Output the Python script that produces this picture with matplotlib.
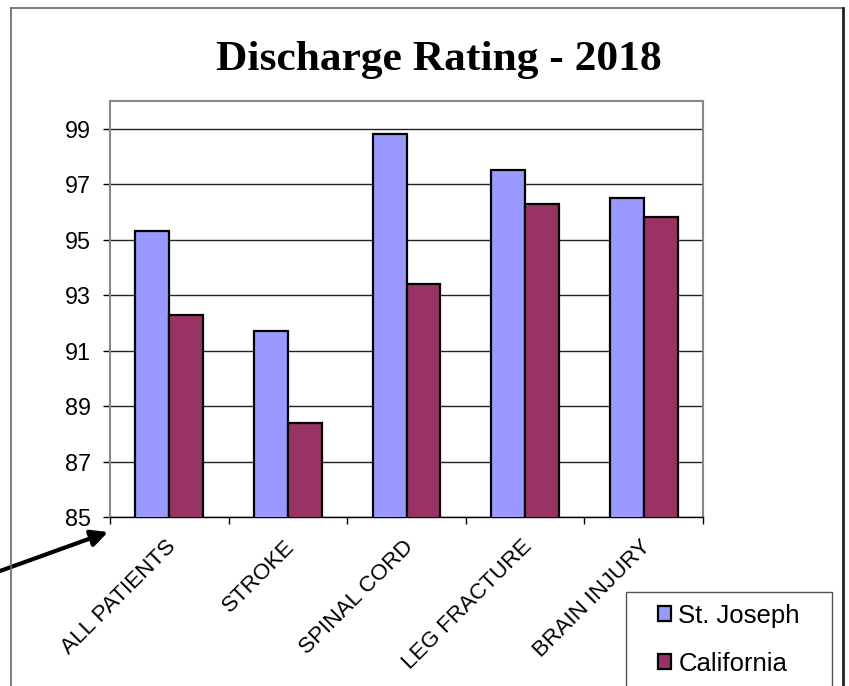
import matplotlib.pyplot as plt
import numpy as np
from matplotlib.lines import Line2D
from matplotlib.patches import Rectangle

categories = ["ALL PATIENTS", "STROKE", "SPINAL CORD", "LEG FRACTURE", "BRAIN INJURY"]
st_joseph = [95.3, 91.7, 98.8, 97.5, 96.5]
california = [92.3, 88.4, 93.4, 96.3, 95.8]
y_ticks = [85, 87, 89, 91, 93, 95, 97, 99]

W, H = 849, 686
plt.rcParams["font.family"] = ["Liberation Sans", "DejaVu Sans"]

fig = plt.figure(figsize=(W / 100, H / 100), dpi=100)
ax = fig.add_axes([110 / W, 1 - 517 / H, 593 / W, 416 / H])

x = np.arange(len(categories))
w = 1 / 3.5
ax.bar(x - w / 2, st_joseph, w, color="#9999FF", edgecolor="black",
       linewidth=1.6, label="St. Joseph", zorder=3)
ax.bar(x + w / 2, california, w, color="#993366", edgecolor="black",
       linewidth=1.6, label="California", zorder=3)

ax.set_xlim(-0.5, len(categories) - 0.5)
ax.set_ylim(85, 100)
ax.set_yticks(y_ticks)
ax.tick_params(axis="y", labelsize=16.8, length=5, width=1, direction="out", pad=9)
ax.yaxis.grid(True, color="#222222", linewidth=1)
ax.set_axisbelow(True)

ax.set_xticks(np.arange(len(categories) + 1) - 0.5)
ax.set_xticklabels([])
ax.tick_params(axis="x", length=5, width=1, direction="out")
for i, lab in enumerate(categories):
    ax.text(i - 0.03, 84.3, lab, rotation=45, ha="right", va="top",
            rotation_mode="anchor", fontsize=16.2)

for s in ["top", "right", "left"]:
    ax.spines[s].set_color("#888888")
    ax.spines[s].set_linewidth(1.5)
ax.spines["bottom"].set_color("black")
ax.spines["bottom"].set_linewidth(1)

fig.text(439 / W, 1 - 70 / H, "Discharge Rating - 2018", ha="center", va="baseline",
         fontsize=31.3, fontweight="bold", family="Liberation Serif")

# legend frame runs off the bottom edge, as in the original
fig.add_artist(Rectangle((626 / W, -0.1), 206 / W, 0.1 + 1 - 592 / H,
                         transform=fig.transFigure, fill=False,
                         edgecolor="#555555", linewidth=1))
leg = fig.legend(loc="upper left", bbox_to_anchor=(658 / W, 1 - 604 / H),
                 fontsize=18.5, frameon=False,
                 handlelength=0.52, handleheight=0.52, handletextpad=0.27,
                 labelspacing=0.92, borderpad=0, borderaxespad=0)

# outer chart border
fig.add_artist(Line2D([11 / W, 11 / W], [0, 1 - 8 / H], transform=fig.transFigure,
                      color="#666666", lw=1.2))
fig.add_artist(Line2D([11 / W, 843 / W], [1 - 8 / H, 1 - 8 / H],
                      transform=fig.transFigure, color="#666666", lw=1.2))
fig.add_artist(Line2D([843 / W, 843 / W], [0, 1 - 8 / H], transform=fig.transFigure,
                      color="#222222", lw=2))

ax.annotate("", xy=(108, H - 532), xycoords="figure pixels",
            xytext=(0, H - 571), textcoords="figure pixels",
            arrowprops=dict(arrowstyle="-|>", color="black", lw=3,
                            mutation_scale=25, shrinkA=0, shrinkB=0),
            annotation_clip=False)

fig.savefig("out.png", dpi=100)
